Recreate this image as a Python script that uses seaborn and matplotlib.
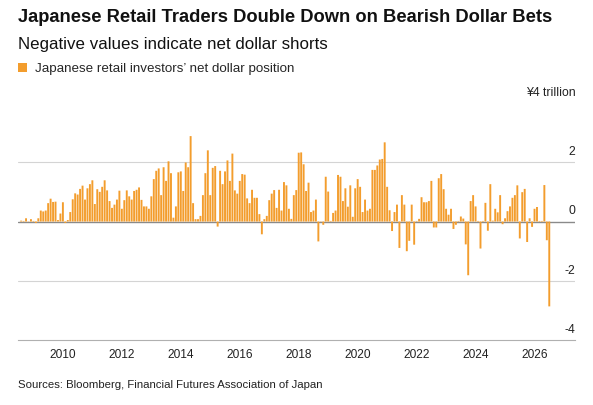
import numpy as np
import pandas as pd
import seaborn as sns
import matplotlib.pyplot as plt
from matplotlib.transforms import ScaledTranslation

# monthly net dollar position of Japanese retail FX traders, ¥ trillion
start_month = '2008-08'
net_position = [
    0.03, 0.02, 0.11, 0.01, 0.08, 0.02, -0.05, 0.11, 0.37, 0.34,
    0.37, 0.62, 0.77, 0.66, 0.67, 0.05, 0.27, 0.65, -0.05, 0.05,
    0.32, 0.75, 0.95, 0.91, 1.10, 1.21, 0.74, 1.12, 1.26, 1.39,
    0.59, 1.09, 1.00, 1.17, 1.39, 1.05, 0.69, 0.46, 0.57, 0.74,
    1.04, 0.43, 0.72, 1.05, 0.85, 0.74, 1.03, 1.07, 1.15, 0.73,
    0.51, 0.51, 0.43, 0.85, 1.43, 1.71, 1.79, 0.89, 1.83, 1.37,
    2.03, 1.63, 0.13, 0.51, 1.66, 1.69, 1.03, 1.99, 1.83, 2.88,
    0.62, 0.08, 0.08, 0.19, 0.89, 1.63, 2.40, 0.89, 1.81, 1.87,
    -0.17, 1.71, 1.26, 1.69, 2.06, 1.37, 2.29, 1.05, 0.94, 1.37,
    1.60, 1.58, 0.78, 0.62, 1.07, 0.80, 0.80, 0.25, -0.43, 0.08,
    0.19, 0.72, 0.94, 1.06, 0.46, 1.07, 0.37, 1.33, 1.22, 0.43,
    0.09, 0.89, 1.06, 2.32, 2.33, 1.93, 1.03, 1.31, 0.32, 0.37,
    0.74, -0.67, 0.01, -0.11, 1.51, 1.01, 0.02, 0.29, 0.37, 1.57,
    1.51, 0.69, 1.12, 0.50, 1.22, 0.16, 1.12, 1.43, 1.17, 0.32,
    0.74, 0.37, 0.43, 1.74, 1.74, 1.89, 2.09, 2.11, 2.67, 1.17,
    0.38, -0.32, 0.32, 0.57, -0.89, 0.89, 0.57, -1.00, -0.65, 0.57,
    -0.78, 0.02, 0.09, 0.82, 0.65, 0.65, 0.69, 1.37, -0.20, -0.20,
    1.46, 1.60, 1.09, 0.43, 0.23, 0.43, -0.25, -0.11, 0.02, 0.17,
    0.10, -0.77, -1.81, 0.69, 0.89, 0.51, 0.02, -0.91, 0.02, 0.63,
    -0.31, 1.26, 0.03, 0.43, 0.31, 0.89, -0.09, 0.11, 0.35, 0.51,
    0.80, 0.89, 1.22, -0.57, 0.99, 1.10, -0.69, 0.11, -0.18, 0.43,
    0.49, 0.02, 0.02, 1.23, -0.63, -2.86,
]
year_ticks = list(range(2010, 2027, 2))
y_ticks = [-4, -2, 0, 2, 4]
y_tick_labels = ['-4', '-2', '0', '2', '¥4 trillion']

months = pd.date_range(start_month, periods=len(net_position), freq='MS')
df = pd.DataFrame({'month': months, 'value': net_position})
df['x'] = df['month'].dt.year + (df['month'].dt.month - 1) / 12

sns.set_style('white')
plt.rcParams['font.family'] = ['Liberation Sans', 'DejaVu Sans']

orange = '#F39D2D'
grey_txt = '#222222'

fig = plt.figure(figsize=(5.93, 4.05), dpi=100)
ax = fig.add_axes([0.030, 0.160, 0.940, 0.586])

ax.axhline(0, color='#8a8a8a', lw=1, zorder=0.5)
for v in [2, -2]:
    ax.axhline(v, color='#d4d4d4', lw=0.8, zorder=0)

sns.barplot(data=df, x='x', y='value', native_scale=True, color=orange,
            saturation=1, width=0.78, errorbar=None, linewidth=0,
            label="Japanese retail investors’ net dollar position", ax=ax, zorder=2)
for bar in ax.patches:
    bar.set_snap(False)

ax.set_xlim(2008.47, 2027.38)
ax.set_ylim(-4, 4)
ax.set_xlabel('')
ax.set_ylabel('')

# y labels sit on the right, above their gridlines
ax.yaxis.tick_right()
ax.set_yticks(y_ticks, y_tick_labels)
ax.tick_params(axis='y', length=0, pad=0, labelsize=8.8, labelcolor=grey_txt)
lift = ScaledTranslation(0, 3 / 72, fig.dpi_scale_trans)
for lab in ax.get_yticklabels():
    lab.set_ha('right')
    lab.set_va('bottom')
    lab.set_transform(lab.get_transform() + lift)

ax.set_xticks(year_ticks, [str(y) for y in year_ticks])
ax.set_xticks(range(2009, 2028), minor=True)
ax.tick_params(axis='x', which='major', length=4, width=0.8, color='#9a9a9a',
               labelsize=8.6, pad=2, labelcolor=grey_txt)
ax.tick_params(axis='x', which='minor', length=2, width=0.8, color='#b5b5b5')

sns.despine(ax=ax, left=True, right=True, top=True)
ax.spines['bottom'].set_color('#b0b0b0')
ax.spines['bottom'].set_linewidth(0.8)

ax.legend(loc='upper left', bbox_to_anchor=(0.030, 1 - 63 / 405),
          bbox_transform=fig.transFigure, frameon=False, fontsize=9.6,
          handlelength=0.7, handleheight=0.7, handletextpad=0.6,
          borderaxespad=0, borderpad=0)

fig.text(0.030, 1 - 18 / 405, 'Japanese Retail Traders Double Down on Bearish Dollar Bets',
         fontsize=13.2, fontweight='bold', va='center', color='#111111')
fig.text(0.030, 1 - 45 / 405, 'Negative values indicate net dollar shorts',
         fontsize=12.2, va='center', color='#111111')
fig.text(0.030, 1 - 385 / 405, 'Sources: Bloomberg, Financial Futures Association of Japan',
         fontsize=8.2, va='center', color=grey_txt)

fig.savefig('out.png', dpi=100)
